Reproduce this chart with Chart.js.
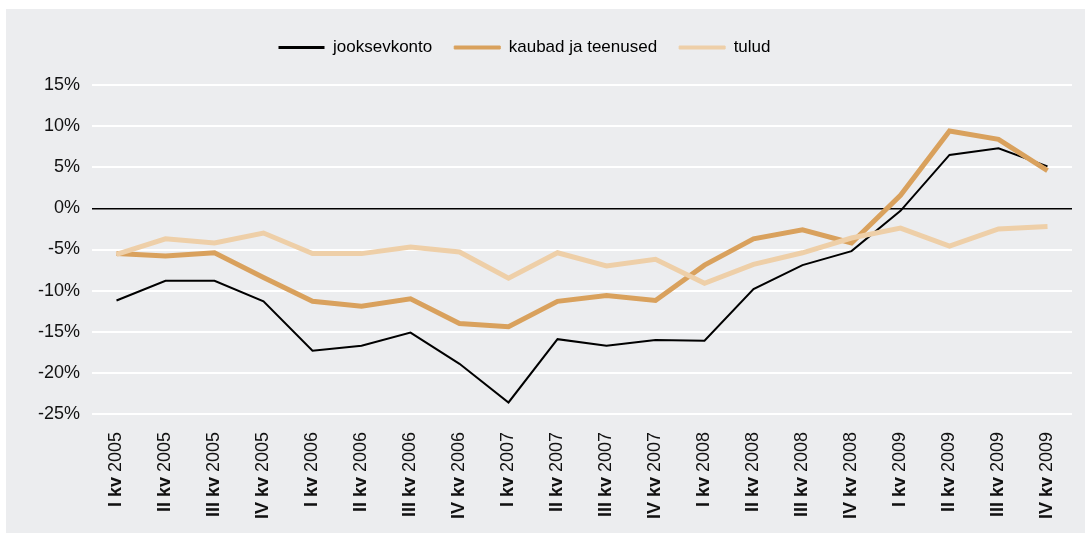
<!DOCTYPE html>
<html lang="et">
  <head>
    <meta charset="UTF-8" />
    <title>Jooksevkonto</title>
    <style>
      body {
        margin: 0;
        padding: 0;
        background-color: #ffffff;
        font-family: "Liberation Sans", Arial, sans-serif;
      }
      .panel {
        position: absolute;
        left: 6px;
        top: 9px;
        width: 1079px;
        height: 524px;
        background-color: #ecedef;
      }
    </style>
  </head>
  <body>
    <div class="panel">
      <canvas id="chart" width="1079" height="524"></canvas>
    </div>

    <script src="https://cdn.jsdelivr.net/npm/chart.js@4.4.1/dist/chart.umd.min.js"></script>
    <script>
      // kvartalid: rooma number on paksus kirjas, aasta tavalises
      const quarters = ["I", "II", "III", "IV", "I", "II", "III", "IV", "I", "II",
        "III", "IV", "I", "II", "III", "IV", "I", "II", "III", "IV"];
      const years = ["2005", "2005", "2005", "2005", "2006", "2006", "2006", "2006",
        "2007", "2007", "2007", "2007", "2008", "2008", "2008", "2008",
        "2009", "2009", "2009", "2009"];
      const labels = quarters.map((q, i) => q + " kv " + years[i]);

      const seriesNames = ["jooksevkonto", "kaubad ja teenused", "tulud"];
      const jooksevkonto = [-11.2, -8.8, -8.8, -11.3, -17.3, -16.7, -15.1, -18.9, -23.6, -15.9,
        -16.7, -16.0, -16.1, -9.8, -6.9, -5.2, -0.3, 6.5, 7.3, 5.1];
      const kaubad = [-5.5, -5.8, -5.4, -8.4, -11.3, -11.9, -11.0, -14.0, -14.4, -11.3,
        -10.6, -11.2, -6.9, -3.7, -2.6, -4.2, 1.6, 9.4, 8.4, 4.6];
      const tulud = [-5.6, -3.7, -4.2, -3.0, -5.5, -5.5, -4.7, -5.3, -8.5, -5.4,
        -7.0, -6.2, -9.1, -6.8, -5.4, -3.6, -2.4, -4.6, -2.5, -2.2];
      const yTicks = [15, 10, 5, 0, -5, -10, -15, -20, -25];

      const colors = ["#000000", "#d9a15d", "#eecfa8"];
      const widths = [2, 5, 5];

      // x-telje sildid: "I kv" paksult, aasta tavaliselt
      const xLabelPlugin = {
        id: "xLabels",
        afterDraw(chart) {
          const ctx = chart.ctx;
          const scale = chart.scales.x;
          const top = chart.chartArea.bottom + 18;
          ctx.save();
          ctx.fillStyle = "#111111";
          ctx.textBaseline = "middle";
          ctx.textAlign = "right";
          labels.forEach((lab, i) => {
            const x = scale.getPixelForTick(i);
            const boldPart = quarters[i] + " kv ";
            const normalPart = years[i];
            ctx.save();
            ctx.translate(x, top);
            ctx.rotate(-Math.PI / 2);
            ctx.font = "18px 'Liberation Sans', Arial, sans-serif";
            const w = ctx.measureText(normalPart).width;
            ctx.fillText(normalPart, 0, 0);
            ctx.font = "bold 18px 'Liberation Sans', Arial, sans-serif";
            ctx.fillText(boldPart, -w, 0);
            ctx.restore();
          });
          ctx.restore();
        },
      };

      // legendi all rohkem ruumi ja legend veidi vasakule
      const legendSpacePlugin = {
        id: "legendSpace",
        afterInit(chart) {
          const legend = chart.legend;
          const origFit = legend.fit;
          legend.fit = function () {
            origFit.call(this);
            this.height += 19;
          };
        },
        beforeDraw(chart) {
          chart.legend.left = 0;
          chart.legend.right = 1037;
        },
      };

      const ctx = document.getElementById("chart").getContext("2d");
      const datasets = [jooksevkonto, kaubad, tulud].map((data, i) => ({
        label: seriesNames[i],
        data: data,
        borderColor: colors[i],
        backgroundColor: colors[i],
        borderWidth: widths[i],
        pointRadius: 0,
        tension: 0,
        fill: false,
        order: 3 - i,
      }));

      new Chart(ctx, {
        type: "line",
        data: { labels: labels, datasets: datasets },
        plugins: [xLabelPlugin, legendSpacePlugin],
        options: {
          responsive: false,
          animation: false,
          layout: { padding: { top: 8, right: 13, bottom: 0, left: 0 } },
          plugins: {
            tooltip: { enabled: false },
            legend: {
              display: true,
              position: "top",
              labels: {
                color: "#111111",
                font: { size: 17, family: "'Liberation Sans', Arial, sans-serif" },
                boxWidth: 46,
                boxHeight: 3,
                padding: 22,
                generateLabels: () =>
                  seriesNames.map((name, i) => ({
                    text: name,
                    fillStyle: colors[i],
                    strokeStyle: colors[i],
                    lineWidth: i === 0 ? 0 : 1,
                    hidden: false,
                    datasetIndex: i,
                  })),
              },
            },
          },
          scales: {
            x: {
              offset: true,
              grid: { display: false },
              border: { display: false },
              ticks: { display: false },
              afterFit: (scale) => {
                scale.height = 119;
              },
            },
            y: {
              min: -25,
              max: 15,
              afterBuildTicks: (scale) => {
                scale.ticks = yTicks.map((v) => ({ value: v }));
              },
              border: { display: false },
              grid: {
                drawTicks: false,
                lineWidth: (c) => (c.tick && c.tick.value === 0 ? 1.5 : 2),
                color: (c) => (c.tick && c.tick.value === 0 ? "#000000" : "#ffffff"),
              },
              ticks: {
                padding: 12,
                color: "#111111",
                font: { size: 18, family: "'Liberation Sans', Arial, sans-serif" },
                callback: (v) => v + "%",
              },
              afterFit: (scale) => {
                scale.width = 86;
              },
            },
          },
        },
      });
    </script>
  </body>
</html>
